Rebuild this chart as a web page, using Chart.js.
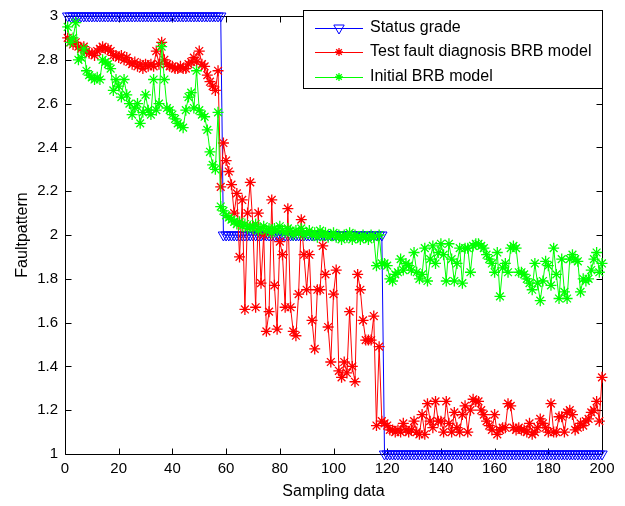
<!DOCTYPE html>
<html>
<head>
<meta charset="utf-8">
<script src="https://cdn.jsdelivr.net/npm/chart.js@4.4.0/dist/chart.umd.min.js"></script>
<style>
  html, body { margin: 0; padding: 0; background: #fff; }
  #wrap { width: 625px; height: 506px; }
</style>
</head>
<body>
<div id="wrap"><canvas id="faultChart" width="625" height="506"></canvas></div>
<script>
// sample index on the x axis
const samples = Array.from({ length: 200 }, (_, i) => i + 1);

const statusGrade = [
  3, 3, 3, 3, 3, 3, 3, 3, 3, 3,
  3, 3, 3, 3, 3, 3, 3, 3, 3, 3,
  3, 3, 3, 3, 3, 3, 3, 3, 3, 3,
  3, 3, 3, 3, 3, 3, 3, 3, 3, 3,
  3, 3, 3, 3, 3, 3, 3, 3, 3, 3,
  3, 3, 3, 3, 3, 3, 3, 3, 2, 2,
  2, 2, 2, 2, 2, 2, 2, 2, 2, 2,
  2, 2, 2, 2, 2, 2, 2, 2, 2, 2,
  2, 2, 2, 2, 2, 2, 2, 2, 2, 2,
  2, 2, 2, 2, 2, 2, 2, 2, 2, 2,
  2, 2, 2, 2, 2, 2, 2, 2, 2, 2,
  2, 2, 2, 2, 2, 2, 2, 2, 1, 1,
  1, 1, 1, 1, 1, 1, 1, 1, 1, 1,
  1, 1, 1, 1, 1, 1, 1, 1, 1, 1,
  1, 1, 1, 1, 1, 1, 1, 1, 1, 1,
  1, 1, 1, 1, 1, 1, 1, 1, 1, 1,
  1, 1, 1, 1, 1, 1, 1, 1, 1, 1,
  1, 1, 1, 1, 1, 1, 1, 1, 1, 1,
  1, 1, 1, 1, 1, 1, 1, 1, 1, 1,
  1, 1, 1, 1, 1, 1, 1, 1, 1, 1
];

const testBrb = [
  2.90, 2.88, 2.87, 2.88, 2.86, 2.85, 2.86, 2.84, 2.83, 2.83,
  2.82, 2.84, 2.85, 2.86, 2.85, 2.85, 2.84, 2.82, 2.82, 2.81,
  2.82, 2.80, 2.81, 2.79, 2.78, 2.79, 2.77, 2.78, 2.76, 2.78,
  2.77, 2.78, 2.77, 2.84, 2.78, 2.88, 2.80, 2.78, 2.77, 2.77,
  2.76, 2.76, 2.77, 2.76, 2.76, 2.78, 2.79, 2.81, 2.79, 2.84,
  2.78, 2.77, 2.73, 2.70, 2.68, 2.66, 2.75, 2.22, 2.42, 2.34,
  2.29, 2.23, 2.10, 2.19, 1.90, 2.16, 1.66, 2.10, 2.24, 2.04,
  1.67, 2.10, 1.78, 2.00, 1.56, 1.65, 2.16, 1.77, 1.57, 1.97,
  1.91, 1.67, 2.12, 1.67, 1.56, 1.54, 1.73, 2.07, 1.91, 1.75,
  1.91, 1.61, 1.48, 1.75, 1.75, 1.95, 1.82, 1.58, 1.42, 1.73,
  1.84, 1.38, 1.35, 1.42, 1.37, 1.65, 1.40, 1.33, 1.82, 1.75,
  1.61, 1.52, 1.52, 1.52, 1.63, 1.13, 1.49, 1.15, 1.14, 1.13,
  1.11, 1.11, 1.10, 1.11, 1.10, 1.14, 1.11, 1.10, 1.11, 1.15,
  1.10, 1.09, 1.18, 1.09, 1.23, 1.15, 1.12, 1.24, 1.15, 1.15,
  1.10, 1.24, 1.14, 1.10, 1.19, 1.12, 1.10, 1.18, 1.22, 1.10,
  1.20, 1.25, 1.24, 1.24, 1.20, 1.18, 1.15, 1.13, 1.11, 1.18,
  1.09, 1.11, 1.12, 1.12, 1.23, 1.22, 1.12, 1.11, 1.12, 1.11,
  1.11, 1.10, 1.14, 1.09, 1.10, 1.12, 1.16, 1.14, 1.12, 1.10,
  1.23, 1.10, 1.10, 1.17, 1.17, 1.10, 1.19, 1.20, 1.18, 1.11,
  1.12, 1.14, 1.13, 1.15, 1.16, 1.19, 1.20, 1.24, 1.15, 1.35
];

const initialBrb = [
  2.95, 2.88, 2.90, 2.97, 2.80, 2.81, 2.85, 2.75, 2.73, 2.72,
  2.71, 2.72, 2.71, 2.80, 2.79, 2.78, 2.76, 2.66, 2.71, 2.68,
  2.63, 2.71, 2.64, 2.60, 2.55, 2.58, 2.60, 2.51, 2.56, 2.64,
  2.57, 2.55, 2.71, 2.57, 2.60, 2.86, 2.71, 2.58, 2.57, 2.55,
  2.53, 2.51, 2.50, 2.49, 2.57, 2.63, 2.65, 2.58, 2.75, 2.57,
  2.55, 2.54, 2.48, 2.38, 2.32, 2.30, 2.56, 2.13, 2.11, 2.09,
  2.08, 2.07, 2.06, 2.05, 2.06, 2.04, 2.05, 2.03, 2.04, 2.03,
  2.05, 2.02, 2.03, 2.04, 2.02, 2.03, 2.01, 2.03, 2.02, 2.04,
  2.02, 2.01, 2.03, 2.02, 2.00, 2.02, 2.01, 2.03, 2.00, 2.01,
  2.02, 2.00, 2.01, 1.99, 2.02, 2.00, 2.01, 1.99, 2.00, 2.01,
  1.99, 2.00, 1.98, 2.00, 1.99, 2.01, 1.98, 2.00, 1.99, 1.98,
  2.00, 1.99, 1.98, 2.00, 1.99, 1.86, 2.00, 1.87, 1.87, 1.86,
  1.80, 1.79, 1.82, 1.83, 1.89, 1.84, 1.87, 1.86, 1.84, 1.92,
  1.83, 1.80, 1.82, 1.94, 1.79, 1.89, 1.95, 1.87, 1.92, 1.96,
  1.91, 1.79, 1.96, 1.89, 1.79, 1.87, 1.94, 1.78, 1.94, 1.94,
  1.83, 1.95, 1.96, 1.96, 1.95, 1.94, 1.91, 1.89, 1.87, 1.83,
  1.92, 1.72, 1.85, 1.87, 1.83, 1.94, 1.95, 1.94, 1.83, 1.83,
  1.82, 1.80, 1.78, 1.75, 1.87, 1.78, 1.70, 1.79, 1.88, 1.86,
  1.77, 1.94, 1.82, 1.71, 1.89, 1.74, 1.71, 1.89, 1.91, 1.89,
  1.88, 1.74, 1.80, 1.79, 1.80, 1.84, 1.89, 1.92, 1.83, 1.87
];

const seriesNames = ['Status grade', 'Test fault diagnosis BRB model', 'Initial BRB model'];
const xTicks = [0, 20, 40, 60, 80, 100, 120, 140, 160, 180, 200];
const yTicks = [1, 1.2, 1.4, 1.6, 1.8, 2, 2.2, 2.4, 2.6, 2.8, 3];

const FONT = 'Arial, "Liberation Sans", Helvetica, sans-serif';

function toPoints(values) {
  return values.map((v, i) => ({ x: samples[i], y: v }));
}

// box round the plot with inward tick marks on all four sides
const axesFrame = {
  id: 'axesFrame',
  beforeDatasetsDraw(chart) {
    const { ctx, chartArea: a, scales } = chart;
    const L = Math.round(a.left) + 0.5, R = Math.round(a.right) + 0.5;
    const T = Math.round(a.top) + 0.5, B = Math.round(a.bottom) + 0.5;
    const tick = 6;
    ctx.save();
    ctx.strokeStyle = '#000';
    ctx.lineWidth = 1;
    ctx.beginPath();
    ctx.rect(L, T, R - L, B - T);
    xTicks.forEach(v => {
      const px = Math.round(scales.x.getPixelForValue(v)) + 0.5;
      ctx.moveTo(px, B); ctx.lineTo(px, B - tick);
      ctx.moveTo(px, T); ctx.lineTo(px, T + tick);
    });
    yTicks.forEach(v => {
      const py = Math.round(scales.y.getPixelForValue(v)) + 0.5;
      ctx.moveTo(L, py); ctx.lineTo(L + tick, py);
      ctx.moveTo(R, py); ctx.lineTo(R - tick, py);
    });
    ctx.stroke();
    ctx.restore();
  }
};

// legend box in the top right corner, line with the marker in the middle
const boxLegend = {
  id: 'boxLegend',
  afterDraw(chart) {
    const { ctx } = chart;
    const bx = 303, by = 10, bw = 299, bh = 78;
    const rows = [28, 52, 77];
    ctx.save();
    ctx.fillStyle = '#fff';
    ctx.fillRect(bx, by, bw, bh);
    ctx.strokeStyle = '#000';
    ctx.lineWidth = 1;
    ctx.strokeRect(bx + 0.5, by + 0.5, bw, bh);
    chart.data.datasets.forEach((ds, i) => {
      const y = rows[i];
      ctx.strokeStyle = ds.borderColor;
      ctx.lineWidth = ds.borderWidth;
      ctx.beginPath();
      ctx.moveTo(315, y + 0.5);
      ctx.lineTo(363, y + 0.5);
      ctx.stroke();
      ctx.fillStyle = ds.pointBackgroundColor;
      ctx.lineWidth = ds.pointBorderWidth;
      Chart.helpers.drawPoint(ctx, {
        pointStyle: ds.pointStyle,
        rotation: ds.pointRotation || 0,
        radius: ds.pointStyle === 'star' ? 4 : ds.pointRadius,
        borderWidth: ds.pointBorderWidth
      }, 339, y);
      ctx.fillStyle = '#000';
      ctx.font = '16px ' + FONT;
      ctx.textBaseline = 'middle';
      ctx.textAlign = 'left';
      ctx.fillText(ds.label, 370, y);
    });
    ctx.restore();
  }
};

new Chart(document.getElementById('faultChart'), {
  type: 'line',
  data: {
    datasets: [{
      label: seriesNames[0],
      data: toPoints(statusGrade),
      borderColor: '#0000ff',
      borderWidth: 1,
      pointStyle: 'triangle',
      pointRotation: 180,
      pointRadius: 6,
      pointBorderColor: '#0000ff',
      pointBackgroundColor: 'rgba(255,255,255,0)',
      pointBorderWidth: 1,
      order: 3,
      clip: false
    }, {
      label: seriesNames[1],
      data: toPoints(testBrb),
      borderColor: '#ff0000',
      borderWidth: 1,
      pointStyle: 'star',
      pointRadius: 5.5,
      pointBorderColor: '#ff0000',
      pointBackgroundColor: '#ff0000',
      pointBorderWidth: 1.3,
      order: 2,
      clip: false
    }, {
      label: seriesNames[2],
      data: toPoints(initialBrb),
      borderColor: '#00ff00',
      borderWidth: 1,
      pointStyle: 'star',
      pointRadius: 5.5,
      pointBorderColor: '#00ff00',
      pointBackgroundColor: '#00ff00',
      pointBorderWidth: 1.3,
      order: 1,
      clip: false
    }]
  },
  options: {
    responsive: false,
    animation: false,
    devicePixelRatio: 1,
    layout: { padding: { left: 0, right: 23, top: 12, bottom: 0 } },
    elements: { line: { tension: 0 } },
    plugins: {
      legend: { display: false },
      tooltip: { enabled: false }
    },
    scales: {
      x: {
        type: 'linear',
        min: 0,
        max: 200,
        afterFit: s => { s.height = 52; },
        afterBuildTicks: s => { s.ticks = xTicks.map(v => ({ value: v })); },
        grid: { display: false, drawTicks: false },
        border: { display: false },
        ticks: {
          padding: 6,
          color: '#000',
          maxRotation: 0,
          autoSkip: false,
          font: { family: FONT, size: 15 }
        },
        title: {
          display: true,
          text: 'Sampling data',
          color: '#000',
          font: { family: FONT, size: 16 },
          padding: { top: 0, bottom: 5 }
        }
      },
      y: {
        type: 'linear',
        min: 1,
        max: 3,
        afterFit: s => { s.width = 65; },
        afterBuildTicks: s => { s.ticks = yTicks.map(v => ({ value: v })); },
        grid: { display: false, drawTicks: false },
        border: { display: false },
        ticks: {
          padding: 7,
          color: '#000',
          autoSkip: false,
          font: { family: FONT, size: 15 },
          callback: v => String(Math.round(v * 10) / 10)
        },
        title: {
          display: true,
          text: 'Faultpattern',
          color: '#000',
          font: { family: FONT, size: 16 },
          padding: { top: 13, bottom: 0 }
        }
      }
    }
  },
  plugins: [axesFrame, boxLegend]
});
</script>
</body>
</html>
